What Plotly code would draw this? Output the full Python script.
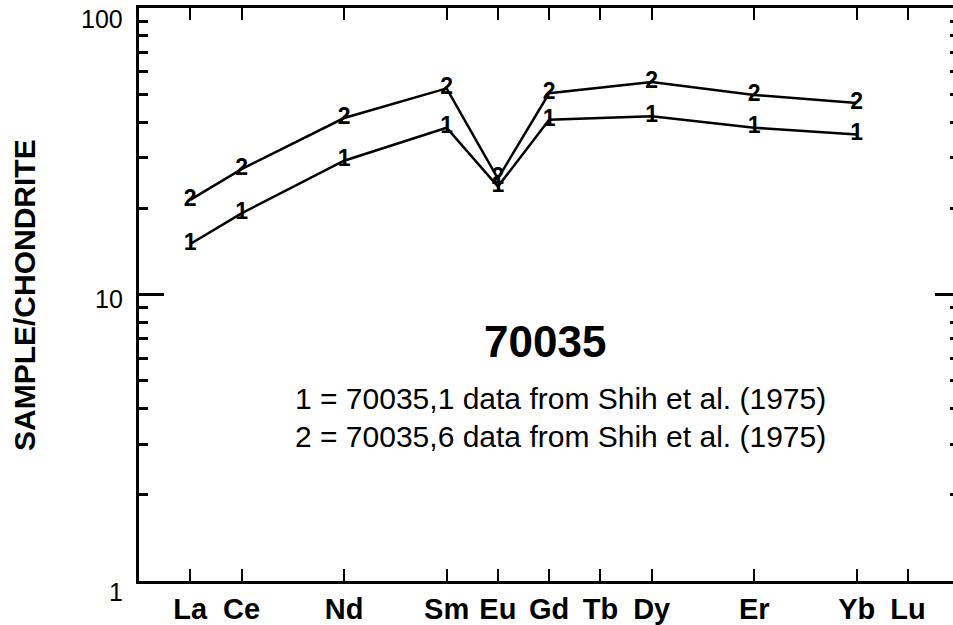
import numpy as np
import plotly.graph_objects as go

# ---- data ----
elements = ["La", "Ce", "Pr", "Nd", "Pm", "Sm", "Eu", "Gd", "Tb", "Dy", "Ho", "Er", "Tm", "Yb", "Lu"]
tick_elements = ["La", "Ce", "Nd", "Sm", "Eu", "Gd", "Tb", "Dy", "Er", "Yb", "Lu"]
sample_elements = ["La", "Ce", "Nd", "Sm", "Eu", "Gd", "Dy", "Er", "Yb"]
series1 = [15.0, 19.2, 29.3, 38.2, 23.8, 40.7, 41.9, 38.2, 36.2]   # 70035,1
series2 = [21.4, 27.4, 41.3, 52.4, 25.4, 50.4, 55.2, 49.7, 46.6]   # 70035,6
series_labels = ["1", "2"]
y_major = [1, 10, 100]
y_major_labels = ["1", "10", "100"]
y_minor = [2, 3, 4, 5, 6, 7, 8, 9, 20, 30, 40, 50, 60, 70, 80, 90]
title_text = "70035"
legend_lines = ["1 = 70035,1 data from Shih et al. (1975)",
                "2 = 70035,6 data from Shih et al. (1975)"]
y_title = "SAMPLE/CHONDRITE"

FONT = "Liberation Sans, Arial, Helvetica, sans-serif"
W, H = 953, 625
ML, MR, MT, MB = 139, 0, 8, 40
PW = W - ML - MR
PH = H - MT - MB


def px_x(px):
    return (px - ML) / PW


def px_y(py):
    return (H - MB - py) / PH


fig = go.Figure()

for lab, vals in zip(series_labels, [series1, series2]):
    fig.add_trace(go.Scatter(
        x=sample_elements, y=vals, mode="lines+text",
        text=[lab] * len(vals), textposition="middle center",
        textfont=dict(family=FONT, size=23, color="black", weight="bold"),
        line=dict(color="black", width=2.5),
        showlegend=False, hoverinfo="skip",
    ))

# empty trace so the right-hand mirror axis is drawn
fig.add_trace(go.Scatter(x=[], y=[], yaxis="y2", showlegend=False, hoverinfo="skip"))

fig.update_layout(
    width=W, height=H,
    margin=dict(l=ML, r=MR, t=MT, b=MB, pad=0),
    paper_bgcolor="white", plot_bgcolor="white",
    xaxis=dict(
        type="category", categoryorder="array", categoryarray=elements,
        range=[-1, 14.877], showgrid=False, zeroline=False,
        showline=True, linecolor="black", linewidth=2.5, mirror="ticks",
        ticks="inside", ticklen=12, tickwidth=2, tickcolor="black",
        tickmode="array", tickvals=tick_elements, ticktext=tick_elements,
        tickfont=dict(family=FONT, size=29, color="black", weight="bold"),
    ),
    yaxis=dict(
        type="log", range=[0, 2], showgrid=False, zeroline=False,
        showline=True, linecolor="black", linewidth=2.5,
        ticks="inside", ticklen=25, tickwidth=2.5, tickcolor="black",
        tickmode="array", tickvals=y_major, showticklabels=False,
        minor=dict(ticks="inside", ticklen=9, tickwidth=2.5, tickcolor="black",
                   tickmode="array", tickvals=y_minor, showgrid=False),
    ),
    yaxis2=dict(
        type="log", range=[0, 2], overlaying="y", side="right",
        showgrid=False, zeroline=False, showline=False,
        ticks="inside", ticklen=18, tickwidth=2.5, tickcolor="black",
        tickmode="array", tickvals=y_major, showticklabels=False,
        minor=dict(ticks="inside", ticklen=3, tickwidth=2.5, tickcolor="black",
                   tickmode="array", tickvals=y_minor, showgrid=False),
    ),
)

# y tick labels (placed as in the scanned original)
label_centers = [596, 301, 19]
for txt, cy in zip(y_major_labels, label_centers):
    fig.add_annotation(x=px_x(125), y=px_y(cy), xref="paper", yref="paper",
                       text=txt, showarrow=False, xanchor="right", yanchor="middle",
                       font=dict(family=FONT, size=25, color="black"))

fig.add_annotation(x=px_x(25), y=px_y(297), xref="paper", yref="paper",
                   text=y_title, textangle=-90, showarrow=False,
                   xanchor="center", yanchor="middle",
                   font=dict(family=FONT, size=30, color="black", weight="bold"))

fig.add_annotation(x=px_x(545), y=px_y(344), xref="paper", yref="paper",
                   text=title_text, showarrow=False, xanchor="center", yanchor="middle",
                   font=dict(family=FONT, size=44, color="black", weight="bold"))

for line, cy in zip(legend_lines, [401, 439]):
    fig.add_annotation(x=px_x(560), y=px_y(cy), xref="paper", yref="paper",
                       text=line, showarrow=False, xanchor="center", yanchor="middle",
                       font=dict(family=FONT, size=30, color="black"))

fig.write_html("out.html")
